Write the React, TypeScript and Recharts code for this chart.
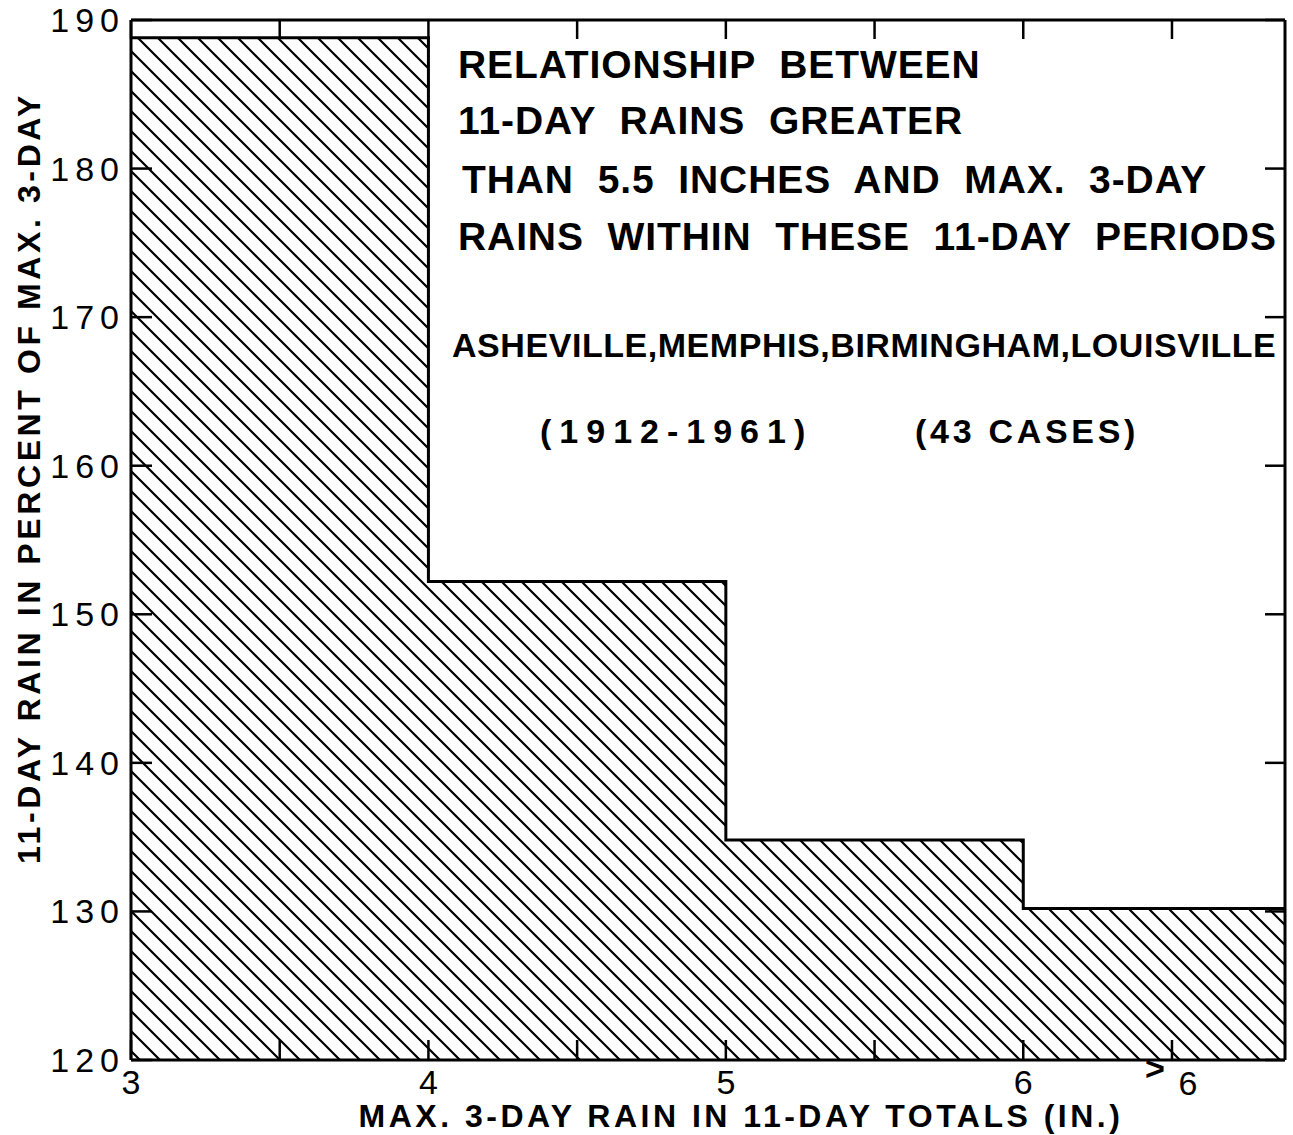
import React from 'react';
import { ComposedChart, Area, XAxis, YAxis } from 'recharts';

// Histogram bins: lower edge of each class (inches) and the mean ratio (%)
const binStarts = [3, 4, 5, 6];
const binPercents = [188.8, 152.2, 134.8, 130.2];
// the open-ended ">6" class runs to the right edge of the frame
const xMax = 6.88;

const xTicks = [3, 3.5, 4, 4.5, 5, 5.5, 6, 6.5];
const xTickLabels = ['3', '', '4', '', '5', '', '6', '>6'];
const yTicks = [120, 130, 140, 150, 160, 170, 180, 190];

const titleLines = [
  'RELATIONSHIP BETWEEN',
  '11-DAY RAINS GREATER',
  'THAN 5.5 INCHES AND MAX. 3-DAY',
  'RAINS WITHIN THESE 11-DAY PERIODS',
];
const stationsText = 'ASHEVILLE,MEMPHIS,BIRMINGHAM,LOUISVILLE';
const periodText = '(1912-1961)';
const casesText = '(43 CASES)';
const xAxisTitle = 'MAX. 3-DAY RAIN IN 11-DAY TOTALS (IN.)';
const yAxisTitle = '11-DAY RAIN IN PERCENT OF MAX. 3-DAY';

const data = [
  ...binStarts.map((x, i) => ({ x, pct: binPercents[i] })),
  { x: xMax, pct: binPercents[binPercents.length - 1] },
];

const FONT = '"Liberation Sans", Arial, sans-serif';
const INK = '#000';

const W = 1293;
const H = 1135;

const TICK_LEN = 20;
const TICK_GAP = 10; // distance from the axis line to the tick label
const TICK_STROKE = 2.5;

// Bottom axis tick: an inward tick mark and the class label underneath
function BottomTick(props: any) {
  const { x, y, payload } = props;
  const axisY = y - TICK_GAP;
  const idx = xTicks.indexOf(payload.value);
  const label = idx >= 0 ? xTickLabels[idx] : '';
  const common = { fill: INK, fontFamily: FONT, fontSize: 34 } as any;
  let text: React.ReactNode = null;
  if (label.startsWith('>')) {
    text = (
      <>
        <text {...common} x={x - 17} y={y + 10} textAnchor="middle" fontWeight={700}>&gt;</text>
        <text {...common} x={x + 16} y={y + 25} textAnchor="middle">{label.slice(1)}</text>
      </>
    );
  } else if (label) {
    text = <text {...common} x={x} y={y + 24} textAnchor="middle">{label}</text>;
  }
  return (
    <g>
      <line x1={x} y1={axisY} x2={x} y2={axisY - TICK_LEN} stroke={INK} strokeWidth={TICK_STROKE} />
      {text}
    </g>
  );
}

// Top frame tick: inward mark only
function TopTick(props: any) {
  const { x, y } = props;
  return <line x1={x} y1={y} x2={x} y2={y + TICK_LEN - 1} stroke={INK} strokeWidth={TICK_STROKE} />;
}

function LeftTick(props: any) {
  const { x, y, payload } = props;
  return (
    <text x={x + 4} y={y + 12} textAnchor="end" fill={INK} fontFamily={FONT} fontSize={34} letterSpacing={6}>
      {String(payload.value)}
    </text>
  );
}

// tick marks only, no label
function NoLabel() {
  return null;
}

export default function App() {
  const titleStyle = { fill: INK, fontFamily: FONT, fontWeight: 700 } as any;
  const headStyle = { ...titleStyle, fontSize: 39, letterSpacing: 0.9, wordSpacing: 12 } as any;
  const innerTick = { stroke: INK, strokeWidth: TICK_STROKE };
  return (
    <div style={{ position: 'absolute', left: 0, top: 0, width: W, height: H, background: '#fff' }}>
      <ComposedChart
        width={W}
        height={H}
        data={data}
        margin={{ top: 19, right: 8, bottom: 35, left: 71 }}
      >
        <defs>
          <pattern id="hatch" patternUnits="userSpaceOnUse" width={20} height={20}>
            <path d="M-5,-5 L25,25 M-5,15 L5,25 M15,-5 L25,5" stroke={INK} strokeWidth={2.2} />
          </pattern>
        </defs>

        <Area
          xAxisId="bottom"
          yAxisId="left"
          type="stepAfter"
          dataKey="pct"
          baseValue={120}
          stroke={INK}
          strokeWidth={3}
          fill="url(#hatch)"
          fillOpacity={1}
          dot={false}
          activeDot={false}
          isAnimationActive={false}
        />

        {/* labelled axes */}
        <XAxis
          xAxisId="bottom"
          type="number"
          dataKey="x"
          domain={[3, xMax]}
          ticks={xTicks}
          interval={0}
          allowDataOverflow
          height={40}
          tickSize={0}
          tickMargin={TICK_GAP}
          tickLine={false}
          axisLine={{ stroke: INK, strokeWidth: 3 }}
          tick={<BottomTick />}
        />
        <YAxis
          yAxisId="left"
          type="number"
          domain={[120, 190]}
          ticks={yTicks}
          interval={0}
          allowDataOverflow
          width={60}
          tickSize={0}
          tickMargin={TICK_GAP}
          tickLine={false}
          axisLine={{ stroke: INK, strokeWidth: 3 }}
          tick={<LeftTick />}
        />

        {/* frame along the top, with inward marks */}
        <XAxis
          xAxisId="top"
          type="number"
          dataKey="x"
          domain={[3, xMax]}
          ticks={xTicks}
          interval={0}
          allowDataOverflow
          orientation="top"
          height={1}
          tickSize={0}
          tickMargin={0}
          tickLine={false}
          tick={<TopTick />}
          axisLine={{ stroke: INK, strokeWidth: 3 }}
        />
        {/* inward marks on the left, and the right-hand frame */}
        <YAxis
          yAxisId="leftIn"
          type="number"
          domain={[120, 190]}
          ticks={yTicks}
          interval={0}
          allowDataOverflow
          orientation="left"
          mirror
          width={1}
          tick={<NoLabel />}
          tickSize={21}
          axisLine={false}
          tickLine={innerTick}
        />
        <YAxis
          yAxisId="right"
          type="number"
          domain={[120, 190]}
          ticks={yTicks}
          interval={0}
          allowDataOverflow
          orientation="right"
          mirror
          width={1}
          tick={<NoLabel />}
          tickSize={20}
          axisLine={{ stroke: INK, strokeWidth: 3 }}
          tickLine={innerTick}
        />

        {/* chart title and notes */}
        <g>
          <text {...headStyle} x={458} y={78}>{titleLines[0]}</text>
          <text {...headStyle} x={458} y={134}>{titleLines[1]}</text>
          <text {...headStyle} x={462} y={193}>{titleLines[2]}</text>
          <text {...headStyle} x={458} y={250}>{titleLines[3]}</text>
          <text {...titleStyle} x={452} y={357} fontSize={34} letterSpacing={0.55}>{stationsText}</text>
          <text {...titleStyle} x={540} y={443} fontSize={34} letterSpacing={8}>{periodText}</text>
          <text {...titleStyle} x={915} y={443} fontSize={34} letterSpacing={3.7}>{casesText}</text>
        </g>

        {/* axis titles */}
        <g>
          <text {...titleStyle} x={741} y={1127} fontSize={32} letterSpacing={3.5} textAnchor="middle">{xAxisTitle}</text>
          <text
            {...titleStyle}
            x={0}
            y={0}
            fontSize={32}
            letterSpacing={3.6}
            textAnchor="middle"
            transform="translate(40,478) rotate(-90)"
          >
            {yAxisTitle}
          </text>
        </g>
      </ComposedChart>
    </div>
  );
}
